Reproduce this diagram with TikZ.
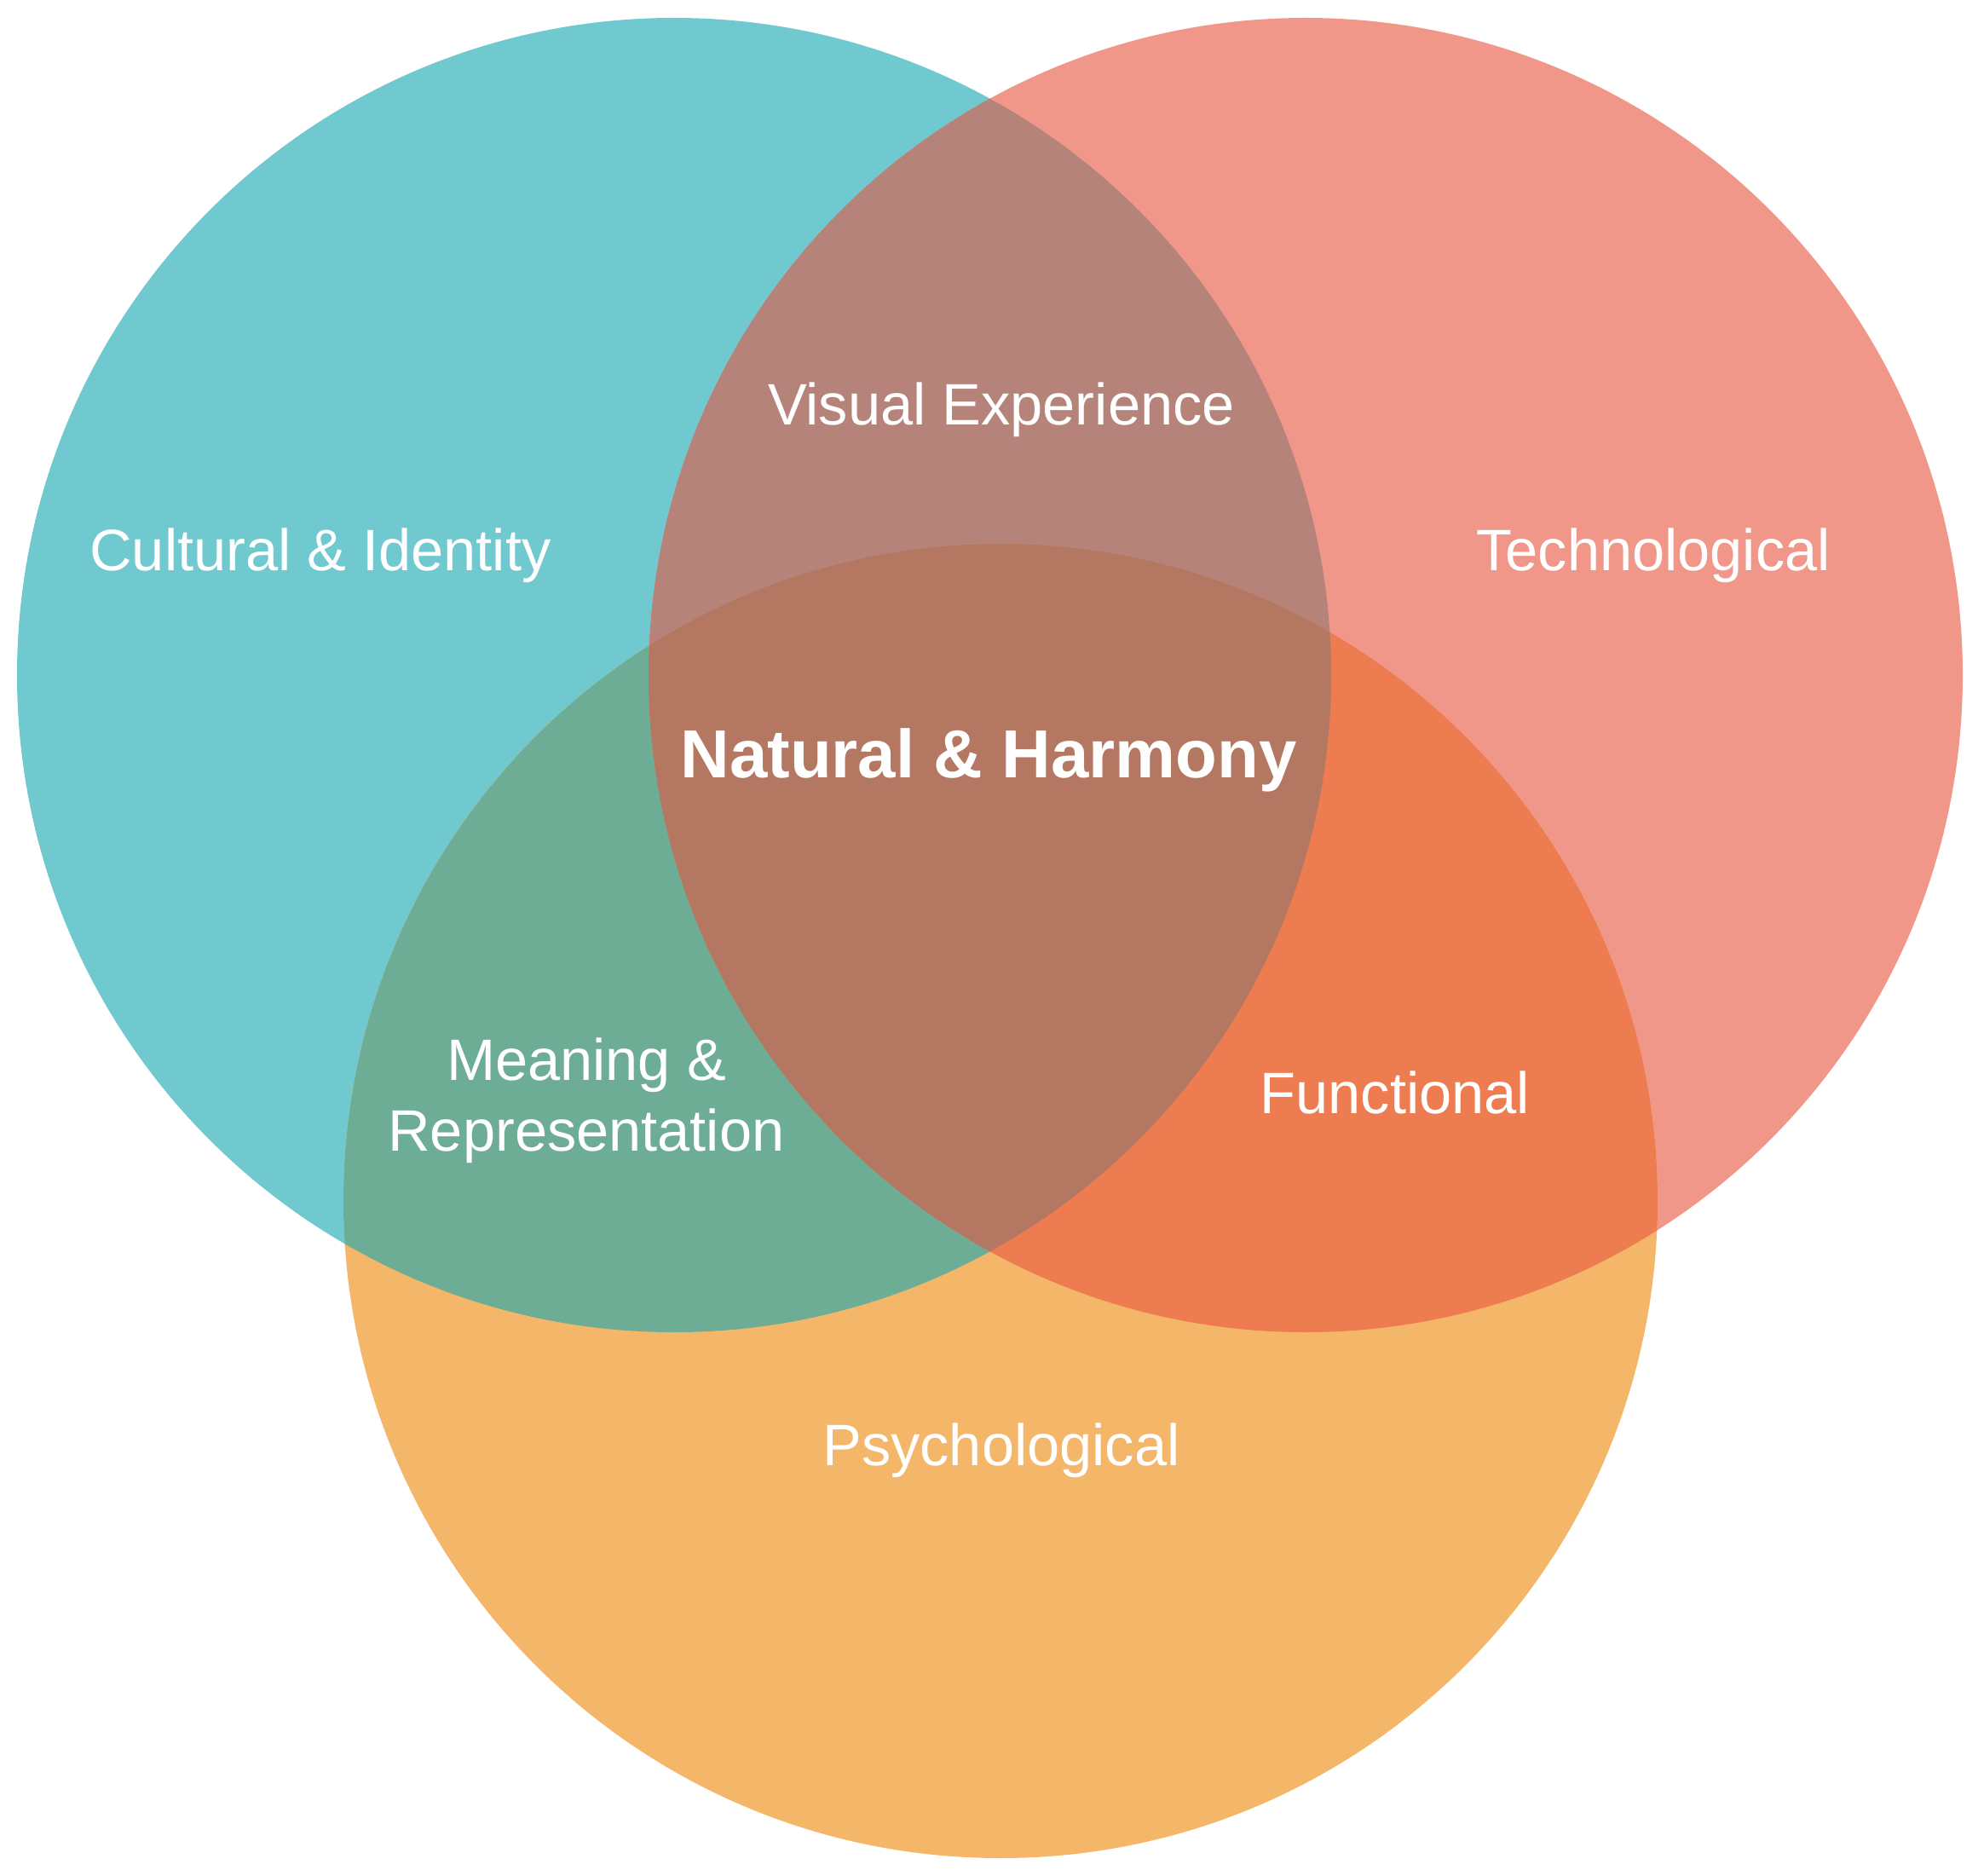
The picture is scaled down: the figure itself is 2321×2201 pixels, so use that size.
\documentclass[tikz,border=0pt]{standalone}
\usepackage{fontspec}
\setmainfont{Liberation Sans}
\definecolor{cteal}{HTML}{71C9D0}
\definecolor{cpink}{HTML}{F1978A}
\definecolor{corange}{HTML}{F4B669}
\definecolor{ctp}{HTML}{B6837A}
\definecolor{cto}{HTML}{6DAD95}
\definecolor{cpo}{HTML}{EE7C51}
\definecolor{call}{HTML}{B47862}
\begin{document}
\begin{tikzpicture}[x=0.01cm,y=-0.01cm,
  lbl/.style={text=white,align=center,font=\fontsize{19.5}{23.5}\selectfont},
  lblbold/.style={text=white,align=center,font=\fontsize{22.7}{27}\selectfont\bfseries}]
\useasboundingbox (0,0) rectangle (2321,2201);
\def\L{(791,792) circle [radius=771]}
\def\R{(1532,792) circle [radius=771]}
\def\B{(1174,1409) circle [radius=771]}
\fill[cteal] \L;
\fill[cpink] \R;
\fill[corange] \B;
\begin{scope}\clip \L; \fill[ctp] \R; \end{scope}
\begin{scope}\clip \L; \fill[cto] \B; \end{scope}
\begin{scope}\clip \R; \fill[cpo] \B; \end{scope}
\begin{scope}\clip \L; \clip \R; \fill[call] \B; \end{scope}
\node[lbl] (cult) at (376,652) {Cultural \& Identity};
\node[lbl] (tech) at (1940,652) {Technological};
\node[lbl] (vis) at (1175,481) {Visual Experience};
\node[lblbold] (nat) at (1160,892) {Natural \& Harmony};
\node[lbl] (mean) at (688,1291) {Meaning \&\\Representation};
\node[lbl] (func) at (1637,1282) {Functional};
\node[lbl] (psy) at (1175,1702) {Psychological};
\end{tikzpicture}
\end{document}
